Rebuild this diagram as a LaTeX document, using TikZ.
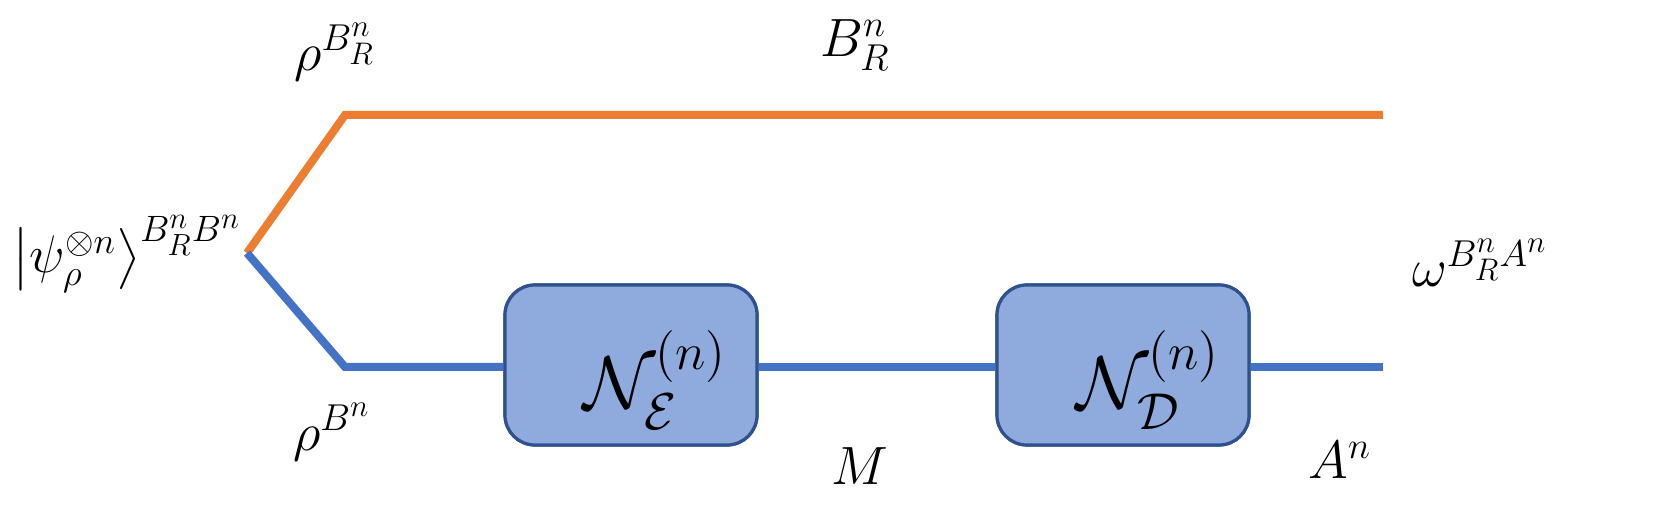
\documentclass[tikz,border=0pt]{standalone}
\usepackage{amsmath,amssymb}
\DeclareMathSizes{20}{20}{15.5}{12}
\definecolor{orng}{HTML}{ED7D31}
\definecolor{blu}{HTML}{4472C4}
\definecolor{boxfill}{HTML}{8FAADC}
\definecolor{boxline}{HTML}{2F528F}
\begin{document}
\begin{tikzpicture}[x=0.5pt,y=-0.5pt,
  wireO/.style={draw=orng,line width=4pt},
  wireB/.style={draw=blu,line width=4pt},
  chan/.style={draw=boxline,fill=boxfill,line width=1.6pt,rounded corners=15pt,minimum width=126pt,minimum height=80pt,inner sep=0pt},
  lab/.style={inner sep=0pt,font=\fontsize{20}{24}\selectfont,scale=1.3},
  blab/.style={inner sep=0pt,font=\fontsize{20}{24}\selectfont,scale=1.8}]
\useasboundingbox (0,0) rectangle (1663,517);
\coordinate (src) at (247,253);
\coordinate (oc) at (345,115);
\coordinate (oe) at (1383,115);
\coordinate (bc) at (345,367);
\coordinate (be) at (1383,367);
\node[chan] (enc) at (631,365) {};
\node[chan] (dec) at (1123,365) {};
\draw[wireO,line join=miter] (src) -- (oc) -- (oe);
\draw[wireB,line join=miter] (src) -- (bc) -- (enc.west |- bc);
\draw[wireB] (enc.east |- bc) -- (dec.west |- bc);
\draw[wireB] (dec.east |- bc) -- (be);
\node[chan] at (enc) {};
\node[chan] at (dec) {};
\node[blab] (encl) at (655,380) {$\mathcal{N}_{\mathcal{E}}^{(n)}$};
\node[blab] (decl) at (1148,380) {$\mathcal{N}_{\mathcal{D}}^{(n)}$};
\node[lab,scale=0.98] (l1) at (127,254) {$\bigl|\psi_\rho^{\otimes n}\bigr\rangle^{B_R^nB^n}$};
\node[lab] (l2) at (335,52) {$\rho^{B_R^n}$};
\node[lab] (l3) at (855,45) {$B_R^n$};
\node[lab] (l4) at (1480,263) {$\omega^{B_R^nA^n}$};
\node[lab] (l5) at (332,432) {$\rho^{B^n}$};
\node[lab] (l6) at (860,466) {$M$};
\node[lab] (l7) at (1340,460) {$A^n$};
\end{tikzpicture}
\end{document}
